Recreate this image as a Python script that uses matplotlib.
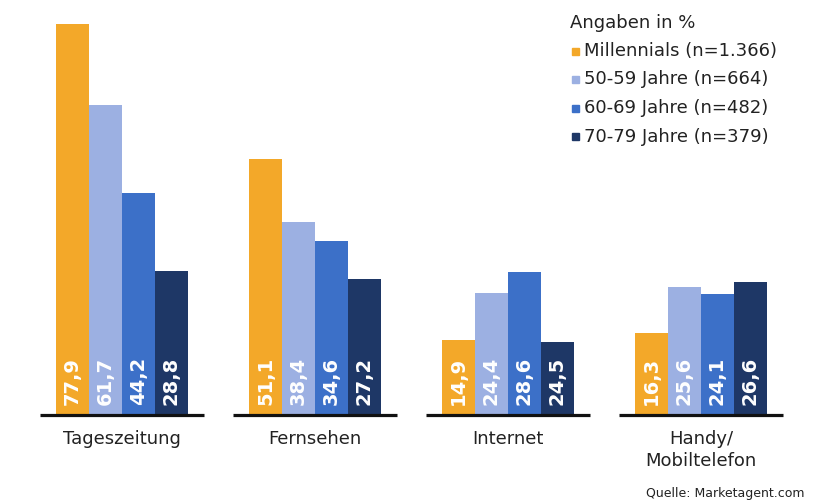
import matplotlib.pyplot as plt

# Kategorien und Gruppen
kategorien = ['Tageszeitung', 'Fernsehen', 'Internet', 'Handy/\nMobiltelefon']
gruppen = ['Millennials (n=1.366)', '50-59 Jahre (n=664)', '60-69 Jahre (n=482)', '70-79 Jahre (n=379)']
farben = ['#F3A829', '#9CB0E2', '#3C70C8', '#1E3766']

# Werte in % (Beschriftung)
millennials = [77.9, 51.1, 14.9, 16.3]
jahre_50_59 = [61.7, 38.4, 24.4, 25.6]
jahre_60_69 = [44.2, 34.6, 28.6, 24.1]
jahre_70_79 = [28.8, 27.2, 24.5, 26.6]
# Balkenhoehen wie im Original gezeichnet (Internet 70-79 ist dort kuerzer)
hoehe_70_79 = [28.8, 27.2, 14.5, 26.6]

serien = [millennials, jahre_50_59, jahre_60_69, jahre_70_79]
hoehen = [millennials, jahre_50_59, jahre_60_69, hoehe_70_79]

fig = plt.figure(figsize=(8.26, 5.03), dpi=100)
ax = fig.add_axes([0, 0, 1, 1])
ax.set_xlim(-0.632, 3.648)
ax.set_ylim(-17.5, 82.7)
ax.axis('off')

breite = 0.171
for j, (werte, h) in enumerate(zip(serien, hoehen)):
    for i in range(len(kategorien)):
        x = i + (j - 1.5) * breite
        ax.bar(x, h[i], width=breite, color=farben[j], linewidth=0)
        ax.text(x, 2.0, f'{werte[i]:.1f}'.replace('.', ','), rotation=90,
                ha='center', va='bottom', color='white', fontsize=14,
                fontweight='bold', family='DejaVu Sans')

for i, k in enumerate(kategorien):
    ax.plot([i - 0.425, i + 0.425], [0, 0], color='#111111', lw=2.3,
            solid_capstyle='butt')
    ax.text(i, -3.0, k, ha='center', va='top', fontsize=13,
            family='DejaVu Sans', color='#222222', linespacing=1.25)

# Legende
fig.text(570 / 826, 1 - 23 / 503, 'Angaben in %', fontsize=13,
         family='DejaVu Sans', color='#222222', va='center', ha='left')
for j, g in enumerate(gruppen):
    y = 1 - (51 + 28.5 * j) / 503
    fig.patches.append(plt.Rectangle((572 / 826, y - 3.5 / 503), 7 / 826, 7 / 503,
                                     transform=fig.transFigure, color=farben[j]))
    fig.text(584 / 826, y, g, fontsize=13, family='DejaVu Sans',
             color='#222222', va='center', ha='left')

fig.text(805 / 826, 1 - 493 / 503, 'Quelle: Marketagent.com', fontsize=9,
         family='DejaVu Sans', color='#222222', va='center', ha='right')

fig.savefig('out.png', dpi=100, facecolor='white')
